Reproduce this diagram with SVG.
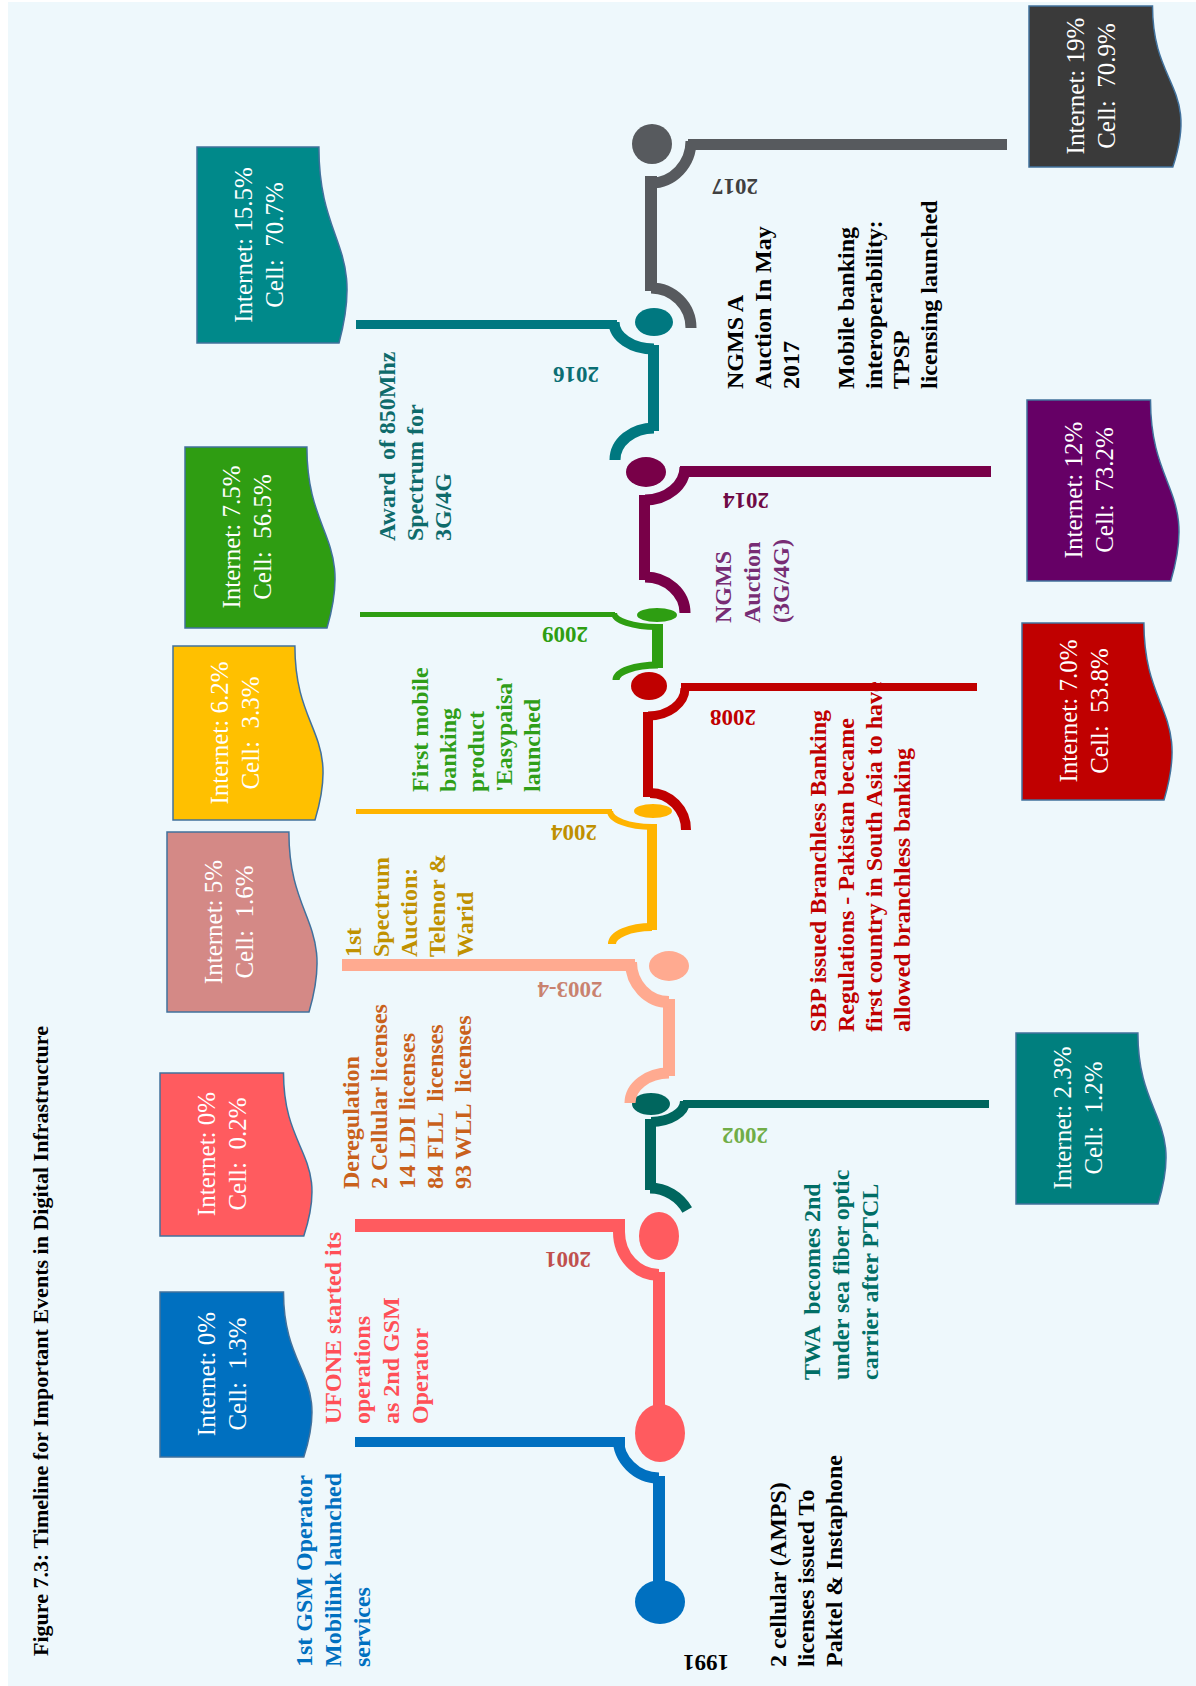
<svg xmlns="http://www.w3.org/2000/svg" width="1196" height="1686" viewBox="0 0 1196 1686">
<style>
.box{stroke:#41719C;stroke-width:1.5}
.bt{font-family:"Liberation Serif","Times New Roman",serif;font-size:25px;fill:#FFFFFF;text-anchor:middle;white-space:pre}
.ev{font-family:"Liberation Serif","Times New Roman",serif;font-weight:bold;font-size:24px;white-space:pre}
.yr{font-family:"Liberation Serif","Times New Roman",serif;font-weight:bold;font-size:23px;text-anchor:middle}
.arc{fill:none}
</style>
<rect x="0" y="0" width="1196" height="1686" fill="#FFFFFF"/>
<rect x="8" y="2" width="1188" height="1684" fill="#EEF8FC"/>

<g id="title">
<text transform="translate(48,1656) rotate(-90)" style="font-family:'Liberation Serif',serif;font-weight:bold;font-size:22px" fill="#000" textLength="630">Figure 7.3: Timeline for Important Events in Digital Infrastructure</text>
</g>

<g id="node-1991">
<path class="box" fill="#0070C0" d="M160,1292 H283.5 C283.5,1374.5 330.5,1374.5 303.8,1457 H160 Z"/>
<text class="bt" transform="translate(215,1374) rotate(-90)"><tspan x="0" y="0">Internet: 0%</tspan><tspan x="0" y="31">Cell:  1.3%</tspan></text>
<text class="ev" fill="#0070C0" transform="translate(312,1667) rotate(-90)"><tspan x="0" y="0">1st GSM Operator</tspan><tspan x="0" y="29">Mobilink launched</tspan><tspan x="0" y="58">services</tspan></text>
<text class="ev" fill="#000000" transform="translate(786,1667) rotate(-90)"><tspan x="0" y="0">2 cellular (AMPS)</tspan><tspan x="0" y="28">licenses issued To</tspan><tspan x="0" y="56">Paktel &amp; Instaphone</tspan></text>
<text class="yr" fill="#000000" transform="translate(706,1655) rotate(180)">1991</text>
</g>

<g id="node-2001">
<path class="box" fill="#FF5B5F" d="M160,1073 H283.5 C283.5,1154.5 330.5,1154.5 303.8,1236 H160 Z"/>
<text class="bt" transform="translate(215,1154) rotate(-90)"><tspan x="0" y="0">Internet: 0%</tspan><tspan x="0" y="31">Cell:  0.2%</tspan></text>
<text class="ev" fill="#FF4F57" transform="translate(341,1424) rotate(-90)"><tspan x="0" y="0">UFONE started its</tspan><tspan x="0" y="29">operations</tspan><tspan x="0" y="58">as 2nd GSM</tspan><tspan x="0" y="87">Operator</tspan></text>
<text class="ev" fill="#C9611C" transform="translate(359,1189) rotate(-90)"><tspan x="0" y="0">Deregulation</tspan><tspan x="0" y="28">2 Cellular licenses</tspan><tspan x="0" y="56">14 LDI licenses</tspan><tspan x="0" y="84">84 FLL  licenses</tspan><tspan x="0" y="112">93 WLL  licenses</tspan></text>
<text class="yr" fill="#C0504D" transform="translate(568,1252) rotate(180)">2001</text>
</g>

<g id="node-2002">
<path class="box" fill="#007F7E" d="M1016,1033 H1137.9 C1137.9,1118.5 1184.3,1118.5 1158,1204 H1016 Z"/>
<text class="bt" transform="translate(1071,1118) rotate(-90)"><tspan x="0" y="0">Internet: 2.3%</tspan><tspan x="0" y="31">Cell:  1.2%</tspan></text>
<text class="ev" fill="#006E66" transform="translate(820,1380) rotate(-90)"><tspan x="0" y="0">TWA  becomes 2nd</tspan><tspan x="0" y="29">under sea fiber optic</tspan><tspan x="0" y="58">carrier after PTCL</tspan></text>
<text class="yr" fill="#70AD47" transform="translate(745,1128) rotate(180)">2002</text>
</g>

<g id="node-2003-4">
<path class="box" fill="#D48986" d="M167,832 H288.9 C288.9,922 335.3,922 309,1012 H167 Z"/>
<text class="bt" transform="translate(222,922) rotate(-90)"><tspan x="0" y="0">Internet: 5%</tspan><tspan x="0" y="31">Cell:  1.6%</tspan></text>
<text class="ev" fill="#C09100" transform="translate(361,957) rotate(-90)"><tspan x="0" y="0">1st</tspan><tspan x="0" y="28">Spectrum</tspan><tspan x="0" y="56">Auction:</tspan><tspan x="0" y="84">Telenor &amp;</tspan><tspan x="0" y="112">Warid</tspan></text>
<text class="yr" fill="#C9826F" transform="translate(570,982) rotate(180)">2003-4</text>
</g>

<g id="node-2004">
<path class="box" fill="#FFC000" d="M173,646 H294.9 C294.9,733 341.3,733 315,820 H173 Z"/>
<text class="bt" transform="translate(228,733) rotate(-90)"><tspan x="0" y="0">Internet: 6.2%</tspan><tspan x="0" y="31">Cell:  3.3%</tspan></text>
<text class="ev" fill="#2F9E18" transform="translate(428,792) rotate(-90)"><tspan x="0" y="0">First mobile</tspan><tspan x="0" y="28">banking</tspan><tspan x="0" y="56">product</tspan><tspan x="0" y="84">'Easypaisa'</tspan><tspan x="0" y="112">launched</tspan></text>
<text class="yr" fill="#BF9000" transform="translate(574,825) rotate(180)">2004</text>
</g>

<g id="node-2008">
<path class="box" fill="#C00000" d="M1022,623 H1143.9 C1143.9,711.5 1190.3,711.5 1164,800 H1022 Z"/>
<text class="bt" transform="translate(1077,711) rotate(-90)"><tspan x="0" y="0">Internet: 7.0%</tspan><tspan x="0" y="31">Cell:  53.8%</tspan></text>
<text class="ev" fill="#C00000" transform="translate(826,1032) rotate(-90)"><tspan x="0" y="0">SBP issued Branchless Banking</tspan><tspan x="0" y="28">Regulations - Pakistan became</tspan><tspan x="0" y="56">first country in South Asia to have</tspan><tspan x="0" y="84">allowed branchless banking</tspan></text>
<text class="yr" fill="#C00000" transform="translate(733,710) rotate(180)">2008</text>
</g>

<g id="node-2009">
<path class="box" fill="#2F9D12" d="M185,447 H306.9 C306.9,537.5 353.3,537.5 327,628 H185 Z"/>
<text class="bt" transform="translate(240,537) rotate(-90)"><tspan x="0" y="0">Internet: 7.5%</tspan><tspan x="0" y="31">Cell:  56.5%</tspan></text>
<text class="ev" fill="#0E6B6B" transform="translate(395,541) rotate(-90)"><tspan x="0" y="0">Award  of 850Mhz</tspan><tspan x="0" y="28">Spectrum for</tspan><tspan x="0" y="56">3G/4G</tspan></text>
<text class="yr" fill="#2E9E12" transform="translate(565,627) rotate(180)">2009</text>
</g>

<g id="node-2014">
<path class="box" fill="#660066" d="M1027,400 H1150.5 C1150.5,490.5 1197.5,490.5 1170.8,581 H1027 Z"/>
<text class="bt" transform="translate(1082,490) rotate(-90)"><tspan x="0" y="0">Internet: 12%</tspan><tspan x="0" y="31">Cell:  73.2%</tspan></text>
<text class="ev" fill="#772D74" transform="translate(731,623) rotate(-90)"><tspan x="0" y="0">NGMS</tspan><tspan x="0" y="29">Auction</tspan><tspan x="0" y="58">(3G/4G)</tspan></text>
<text class="yr" fill="#6E0A45" transform="translate(746,493) rotate(180)">2014</text>
</g>

<g id="node-2016">
<path class="box" fill="#00898A" d="M197,147 H318.9 C318.9,245 365.3,245 339,343 H197 Z"/>
<text class="bt" transform="translate(252,245) rotate(-90)"><tspan x="0" y="0">Internet: 15.5%</tspan><tspan x="0" y="31">Cell:  70.7%</tspan></text>
<text class="yr" fill="#0A6E73" transform="translate(576,367) rotate(180)">2016</text>
</g>

<g id="node-2017">
<path class="box" fill="#3A3A3A" d="M1029,6 H1152.5 C1152.5,86.5 1199.5,86.5 1172.8,167 H1029 Z"/>
<text class="bt" transform="translate(1084,86) rotate(-90)"><tspan x="0" y="0">Internet: 19%</tspan><tspan x="0" y="31">Cell:  70.9%</tspan></text>
<text class="ev" fill="#000000" transform="translate(743,389) rotate(-90)"><tspan x="0" y="0">NGMS A</tspan><tspan x="0" y="28">Auction In May</tspan><tspan x="0" y="56">2017</tspan></text>
<text class="ev" fill="#000000" transform="translate(854,389) rotate(-90)"><tspan x="0" y="0">Mobile banking</tspan><tspan x="0" y="27.5">interoperability:</tspan><tspan x="0" y="55">TPSP</tspan><tspan x="0" y="82.5">licensing launched</tspan></text>
<text class="yr" fill="#404040" transform="translate(735,179) rotate(180)">2017</text>
</g>

<g id="connectors">
<!-- 1991 blue -->
<rect x="653" y="1476" width="12" height="126" fill="#0070C0"/>
<path class="arc" stroke="#0070C0" stroke-width="11" d="M659,1478 A41,41 0 0 1 618,1437"/>
<rect x="355" y="1437" width="270" height="10" fill="#0070C0"/>
<ellipse cx="660" cy="1602" rx="25" ry="22" fill="#0070C0"/>
<!-- 2001 red -->
<rect x="653" y="1272" width="12" height="161" fill="#FF5B5F"/>
<path class="arc" stroke="#FF5B5F" stroke-width="12" d="M659,1275 A40,43 0 0 1 619,1232"/>
<rect x="355" y="1219" width="270" height="13" fill="#FF5B5F"/>
<ellipse cx="660" cy="1433" rx="25" ry="29" fill="#FF5B5F"/>
<ellipse cx="659" cy="1236" rx="20" ry="24" fill="#FF5B5F"/>
<!-- 2002 dark teal -->
<path class="arc" stroke="#00665E" stroke-width="11" d="M650,1188 A43,44 0 0 1 687.2,1210"/>
<rect x="645" y="1119" width="11" height="71" fill="#00665E"/>
<path class="arc" stroke="#00665E" stroke-width="10" d="M651,1122 A34,21 0 0 0 685,1101"/>
<rect x="683" y="1100" width="306" height="8" fill="#00665E"/>
<ellipse cx="651" cy="1104" rx="19" ry="11" fill="#00665E"/>
<!-- 2003-4 rose -->
<path class="arc" stroke="#FFAA90" stroke-width="11" d="M669,1073 A39,30 0 0 0 630,1103"/>
<rect x="663" y="999" width="12" height="77" fill="#FFAA90"/>
<path class="arc" stroke="#FFAA90" stroke-width="12" d="M669,1002 A38,40 0 0 1 631,962"/>
<rect x="342" y="959" width="293" height="12" fill="#FFAA90"/>
<ellipse cx="669" cy="966" rx="20" ry="15" fill="#FFAA90"/>
<!-- 2004 gold -->
<path class="arc" stroke="#FFB400" stroke-width="8" d="M652,927 A40,17 0 0 0 612,944"/>
<rect x="647" y="824" width="10" height="106" fill="#FFB400"/>
<path class="arc" stroke="#FFB400" stroke-width="6" d="M652,827 A42,16 0 0 1 610,811"/>
<rect x="356" y="809" width="256" height="5" fill="#FFB400"/>
<ellipse cx="653" cy="811" rx="19" ry="7" fill="#FFB400"/>
<!-- 2008 red -->
<path class="arc" stroke="#C00000" stroke-width="10" d="M650,793 A36,37 0 0 1 686,830"/>
<rect x="643" y="712" width="10" height="85" fill="#C00000"/>
<path class="arc" stroke="#C00000" stroke-width="9" d="M648,716 A37,28 0 0 0 685,688"/>
<rect x="681" y="683" width="296" height="8" fill="#C00000"/>
<ellipse cx="649" cy="686" rx="18" ry="14" fill="#C00000"/>
<!-- 2009 green -->
<path class="arc" stroke="#2E9E12" stroke-width="7" d="M658,665 A42,15 0 0 0 616,680"/>
<rect x="652" y="624" width="11" height="44" fill="#2E9E12"/>
<path class="arc" stroke="#2E9E12" stroke-width="6" d="M657,627 A43,14 0 0 1 614,613"/>
<rect x="360" y="612" width="255" height="5" fill="#2E9E12"/>
<ellipse cx="657" cy="615" rx="20" ry="7" fill="#2E9E12"/>
<!-- 2014 purple -->
<path class="arc" stroke="#780048" stroke-width="11" d="M645,577 A40,36 0 0 1 685,613"/>
<rect x="639" y="495" width="11" height="85" fill="#780048"/>
<path class="arc" stroke="#780048" stroke-width="11" d="M645,500 A40,33 0 0 0 685,467"/>
<rect x="680" y="466" width="311" height="11" fill="#780048"/>
<ellipse cx="646" cy="472" rx="20" ry="15" fill="#780048"/>
<!-- 2016 teal -->
<path class="arc" stroke="#007880" stroke-width="11" d="M654,428 A39,32 0 0 0 615,460"/>
<rect x="648" y="345" width="11" height="86" fill="#007880"/>
<path class="arc" stroke="#007880" stroke-width="11" d="M654,349 A40,27 0 0 1 614,322"/>
<rect x="356" y="320" width="261" height="9" fill="#007880"/>
<ellipse cx="654" cy="322" rx="19" ry="14" fill="#007880"/>
<!-- 2017 gray -->
<path class="arc" stroke="#575A5E" stroke-width="11" d="M651,288 A40,40 0 0 1 691,328"/>
<rect x="645" y="176" width="12" height="115" fill="#575A5E"/>
<path class="arc" stroke="#575A5E" stroke-width="11" d="M651,183 A40,42 0 0 0 691,141"/>
<rect x="688" y="139" width="319" height="11" fill="#575A5E"/>
<ellipse cx="652" cy="144" rx="20" ry="20" fill="#575A5E"/>
</g>
</svg>
